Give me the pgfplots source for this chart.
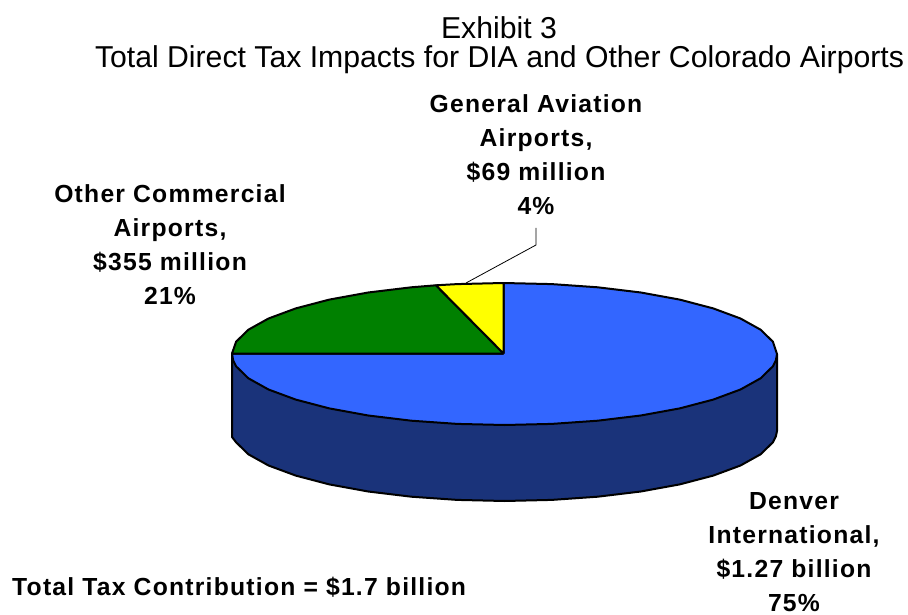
\documentclass[border=0pt]{standalone}
\usepackage{pgfplots}
\pgfplotsset{compat=1.18}
\usepackage{fontspec}
\setmainfont{Liberation Sans}
\newfontfamily\lblfont[LetterSpace=5,Ligatures=NoCommon]{Liberation Sans Bold}
\definecolor{pieblue}{HTML}{3366FF}
\definecolor{piedark}{HTML}{1A337A}
\definecolor{piegreen}{HTML}{008000}
\definecolor{pieyellow}{HTML}{FFFF00}
\newcommand{\lbl}{\lblfont\fontsize{24.7}{34}\selectfont}
\begin{document}
\begin{tikzpicture}
\begin{axis}[
    hide axis,
    scale only axis,
    width=908pt, height=614pt,
    xmin=0, xmax=908, ymin=0, ymax=614,
    y dir=reverse,
    clip=false,
    every axis plot/.append style={line join=round, line width=2pt},
  ]
  % keep the page the size of the reference
  \path (axis cs:0,0) rectangle (axis cs:908,614);

  % side wall
  \addplot[draw=black, fill=piedark] coordinates {
    (777,354) (777,431) (775.9,436.2) (772.9,442.3) (760.6,454.3) (740.5,465.5) (713.2,475.6)
    (679.7,484.4) (640.8,491.5) (597.7,496.7) (551.8,499.9) (504.5,501)
    (457.2,499.9) (411.3,496.7) (368.2,491.5) (329.3,484.4) (295.8,475.6)
    (268.5,465.5) (248.4,454.3) (236.1,442.3) (232,437) (232,354) (777,354)
  };
  % Denver International, 75%
  \addplot[draw=black, fill=pieblue] coordinates {
    (503.5,353.5) (503.5,283) (551.8,284.1) (597.7,287.3) (640.8,292.5) (679.7,299.6)
    (713.2,308.4) (740.5,318.5) (760.6,329.7) (772.9,341.7) (777,354)
    (775.9,360.2) (772.9,366.3) (760.6,378.3) (740.5,389.5) (713.2,399.6)
    (679.7,408.4) (640.8,415.5) (597.7,420.7) (551.8,423.9) (504.5,425)
    (457.2,423.9) (411.3,420.7) (368.2,415.5) (329.3,408.4) (295.8,399.6)
    (268.5,389.5) (248.4,378.3) (236.1,366.3) (233.1,360.2) (232,353.5) (503.5,353.5)
  };
  % Other commercial, 21%
  \addplot[draw=black, fill=piegreen] coordinates {
    (503.5,353.5) (232,353.5) (236.1,341.7) (248.4,329.7) (268.5,318.5) (295.8,308.4)
    (329.3,299.6) (368.2,292.5) (411.3,287.3) (436,285.3) (503.5,353.5)
  };
  % General aviation, 4%
  \addplot[draw=black, fill=pieyellow] coordinates {
    (503.5,353.5) (436,285.3) (457.2,284.1) (503.5,283) (503.5,353.5)
  };
  % leader
  \addplot[draw=black, line width=0.8pt] coordinates {(536,228) (536,245) (466,283)};

  \node[anchor=center, font=\fontsize{30.2}{33}\selectfont] at (axis cs:499,28) {Exhibit 3};
  \node[anchor=center, font=\fontsize{30.2}{33}\selectfont] at (axis cs:499.5,60) {Total Direct Tax Impacts for DIA and Other Colorado Airports};

  \node[align=center, font=\lbl] at (axis cs:536,155) {General Aviation\\Airports,\\\$69 million\\4\%};
  \node[align=center, font=\lbl] at (axis cs:170,245) {Other Commercial\\Airports,\\\$355 million\\21\%};
  \node[align=center, font=\lbl] at (axis cs:794,552) {Denver\\International,\\\$1.27 billion\\75\%};
  \node[anchor=west, font=\lbl, inner sep=0pt] at (axis cs:12,587) {Total Tax Contribution = \$1.7 billion};
\end{axis}
\end{tikzpicture}
\end{document}
